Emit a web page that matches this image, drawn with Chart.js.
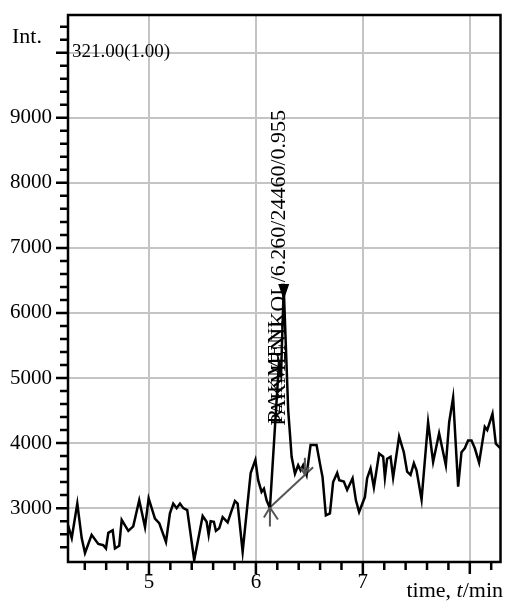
<!DOCTYPE html>
<html>
<head>
<meta charset="utf-8">
<script src="https://cdn.jsdelivr.net/npm/chart.js@4.4.1/dist/chart.umd.min.js"></script>
<style>
  html, body { margin: 0; padding: 0; background: #fff; }
  #wrap { width: 505px; height: 601px; }
</style>
</head>
<body>
<div id="wrap"><canvas id="chromChart" width="505" height="601"></canvas></div>
<script>
// trace (time in min, intensity)
const times = [
  4.243, 4.278, 4.330, 4.371, 4.402, 4.464, 4.526, 4.573, 4.598, 4.620,
  4.661, 4.682, 4.722, 4.745, 4.807, 4.853, 4.909, 4.963, 4.997, 5.056,
  5.096, 5.159, 5.196, 5.227, 5.259, 5.290, 5.321, 5.358, 5.423, 5.502,
  5.539, 5.558, 5.577, 5.607, 5.626, 5.657, 5.689, 5.736, 5.764, 5.804,
  5.829, 5.876, 5.951, 5.995, 6.021, 6.053, 6.075, 6.100, 6.131, 6.215,
  6.235, 6.260, 6.302,
  6.318, 6.334, 6.365, 6.395, 6.418, 6.442, 6.474, 6.511, 6.567, 6.605,
  6.623, 6.654, 6.692, 6.722, 6.760, 6.779, 6.822, 6.853, 6.904, 6.935,
  6.965, 7.019, 7.040, 7.072, 7.103, 7.152, 7.190, 7.206, 7.227, 7.259,
  7.283, 7.339, 7.383, 7.414, 7.446, 7.477, 7.502, 7.549, 7.610, 7.657,
  7.713, 7.776, 7.807, 7.844, 7.891, 7.922, 7.953, 7.984, 8.016, 8.047,
  8.087, 8.140, 8.163, 8.212, 8.243, 8.287
];
const intensity = [
  2740, 2540, 3070, 2540, 2310, 2590, 2450, 2430, 2380, 2620,
  2660, 2380, 2420, 2820, 2650, 2720, 3120, 2710, 3150, 2840,
  2770, 2480, 2920, 3070, 3000, 3070, 3000, 2970, 2200, 2880,
  2790, 2590, 2800, 2790, 2650, 2690, 2860, 2780, 2920, 3110,
  3070, 2330, 3540, 3740, 3430, 3250, 3300, 3120, 3000, 5220,
  5050, 6400, 4500,
  4150, 3790, 3530, 3660, 3580, 3660, 3510, 3970, 3970, 3630,
  3480, 2890, 2920, 3400, 3540, 3430, 3410, 3280, 3460, 3120,
  2940, 3170, 3460, 3610, 3320, 3840, 3790, 3470, 3760, 3790,
  3470, 4100, 3860, 3560, 3510, 3690, 3580, 3130, 4320, 3710,
  4150, 3660, 4320, 4700, 3330, 3860, 3920, 4040, 4040, 3920,
  3700, 4250, 4200, 4450, 3990, 3920
];

// peak integration baseline and label
const baseTimes = [6.131, 6.535];
const baseInts = [3010, 3630];
const baseArrowTime = 6.458;
const peakTime = 6.260;
const peakInt = 6400;
const peakLabel = 'PAKMENIKOL/6.260/24460/0.955';
const peakLabel2 = 'RAKMENI';

// axis ticks
const yTickVals = [2400, 2600, 2800, 3000, 3200, 3400, 3600, 3800, 4000, 4200,
  4400, 4600, 4800, 5000, 5200, 5400, 5600, 5800, 6000, 6200, 6400, 6600,
  6800, 7000, 7200, 7400, 7600, 7800, 8000, 8200, 8400, 8600, 8800, 9000,
  9200, 9400, 9600, 9800, 10000, 10200, 10400];
const yLabelVals = [3000, 4000, 5000, 6000, 7000, 8000, 9000];
const xTickVals = [4.4, 4.6, 4.8, 5, 5.2, 5.4, 5.6, 5.8, 6, 6.2, 6.4, 6.6,
  6.8, 7, 7.2, 7.4, 7.6, 7.8, 8, 8.2];
const xLabelVals = [5, 6, 7];

const SERIF = '"Liberation Serif", "DejaVu Serif", serif';
const isInt = v => Math.abs(v - Math.round(v)) < 1e-6;

// ticks, frame and annotations
const decor = {
  id: 'decor',
  afterDatasetsDraw(chart) {
    const { ctx, chartArea: a, scales: { x, y } } = chart;
    ctx.save();

    ctx.strokeStyle = '#000';
    ctx.lineWidth = 2.5;
    ctx.beginPath();
    yTickVals.forEach(v => {
      const p = y.getPixelForValue(v);
      const len = v % 1000 === 0 ? 12 : 8;
      ctx.moveTo(a.left - len, p);
      ctx.lineTo(a.left, p);
    });
    xTickVals.forEach(v => {
      const p = x.getPixelForValue(v);
      const len = isInt(v) ? 12 : 8;
      ctx.moveTo(p, a.bottom);
      ctx.lineTo(p, a.bottom + len);
    });
    ctx.stroke();
    ctx.strokeRect(a.left, a.top, a.right - a.left, a.bottom - a.top);

    // baseline markers
    const bx0 = x.getPixelForValue(baseTimes[0]);
    const by0 = y.getPixelForValue(baseInts[0]);
    const f = (baseArrowTime - baseTimes[0]) / (baseTimes[1] - baseTimes[0]);
    const bx1 = x.getPixelForValue(baseArrowTime);
    const by1 = y.getPixelForValue(baseInts[0] + f * (baseInts[1] - baseInts[0]));
    ctx.strokeStyle = '#555';
    ctx.lineWidth = 2;
    ctx.beginPath();
    ctx.moveTo(bx0, by0); ctx.lineTo(bx0, by0 + 19);
    ctx.moveTo(bx0, by0); ctx.lineTo(bx0 - 6, by0 + 10);
    ctx.moveTo(bx0, by0); ctx.lineTo(bx0 + 8, by0 + 12);
    ctx.moveTo(bx1, by1 - 17); ctx.lineTo(bx1, by1);
    ctx.moveTo(bx1, by1); ctx.lineTo(bx1 - 4, by1 - 7);
    ctx.moveTo(bx1, by1); ctx.lineTo(bx1 + 4, by1 - 8);
    ctx.stroke();

    // peak top marker
    const px = x.getPixelForValue(peakTime);
    const py = y.getPixelForValue(peakInt);
    ctx.fillStyle = '#000';
    ctx.beginPath();
    ctx.moveTo(px - 5.5, py - 3);
    ctx.lineTo(px + 5.5, py - 3);
    ctx.lineTo(px, py + 13);
    ctx.closePath();
    ctx.fill();

    // rotated peak label
    ctx.font = '22px ' + SERIF;
    ctx.fillStyle = '#000';
    ctx.save();
    ctx.translate(px + 1, a.top + 95);
    ctx.rotate(-Math.PI / 2);
    ctx.textAlign = 'right';
    ctx.textBaseline = 'alphabetic';
    ctx.fillText(peakLabel, 0, 0);
    ctx.restore();
    ctx.save();
    ctx.translate(px - 2, y.getPixelForValue(4300));
    ctx.rotate(-Math.PI / 2);
    ctx.textAlign = 'left';
    ctx.fillText(peakLabel2, 0, 0);
    ctx.restore();

    // texts
    ctx.textAlign = 'left';
    ctx.textBaseline = 'alphabetic';
    ctx.font = '22px ' + SERIF;
    ctx.fillText('Int.', 12, 43);
    ctx.font = '19px ' + SERIF;
    ctx.fillText('321.00(1.00)', a.left + 4, 57);

    const parts = [['time, ', ''], ['t', 'italic '], ['/min', '']];
    let w = 0;
    parts.forEach(([s, st]) => { ctx.font = st + '22px ' + SERIF; w += ctx.measureText(s).width; });
    let tx = 503 - w;
    parts.forEach(([s, st]) => {
      ctx.font = st + '22px ' + SERIF;
      ctx.fillText(s, tx, 597);
      tx += ctx.measureText(s).width;
    });
    ctx.restore();
  }
};

const ctx = document.getElementById('chromChart').getContext('2d');
const chromChart = new Chart(ctx, {
  type: 'line',
  data: {
    datasets: [{
      data: times.map((t, i) => ({ x: t, y: intensity[i] })),
      borderColor: '#000',
      borderWidth: 2.5,
      pointRadius: 0,
      tension: 0
    }, {
      data: baseTimes.map((t, i) => ({ x: t, y: baseInts[i] })),
      borderColor: '#555',
      borderWidth: 2,
      pointRadius: 0
    }]
  },
  options: {
    responsive: false,
    animation: false,
    layout: { padding: { top: 15, right: 4.5, left: 0, bottom: 0 } },
    plugins: { legend: { display: false }, tooltip: { enabled: false } },
    scales: {
      x: {
        type: 'linear',
        min: 4.243,
        max: 8.287,
        afterBuildTicks: s => { s.ticks = xTickVals.map(v => ({ value: v })); },
        afterFit: s => { s.height = 39; s.paddingLeft = 0; s.paddingRight = 0; },
        border: { display: false },
        grid: {
          drawTicks: false,
          lineWidth: 2,
          color: c => (c.tick && isInt(c.tick.value) ? '#c4c4c4' : 'rgba(0,0,0,0)')
        },
        ticks: {
          autoSkip: false,
          maxRotation: 0,
          padding: 8,
          color: '#000',
          font: { family: SERIF, size: 21 },
          callback: v => (xLabelVals.some(l => Math.abs(l - v) < 1e-6) ? String(Math.round(v)) : '')
        }
      },
      y: {
        min: 2172,
        max: 10580,
        afterBuildTicks: s => { s.ticks = yTickVals.map(v => ({ value: v })); },
        afterFit: s => { s.width = 68; s.paddingTop = 0; s.paddingBottom = 0; },
        border: { display: false },
        grid: {
          drawTicks: false,
          lineWidth: 2,
          color: c => (c.tick && c.tick.value % 1000 === 0 ? '#c4c4c4' : 'rgba(0,0,0,0)')
        },
        ticks: {
          autoSkip: false,
          padding: 16,
          color: '#000',
          font: { family: SERIF, size: 21 },
          callback: v => (yLabelVals.includes(v) ? String(v) : '')
        }
      }
    }
  },
  plugins: [decor]
});
</script>
</body>
</html>
